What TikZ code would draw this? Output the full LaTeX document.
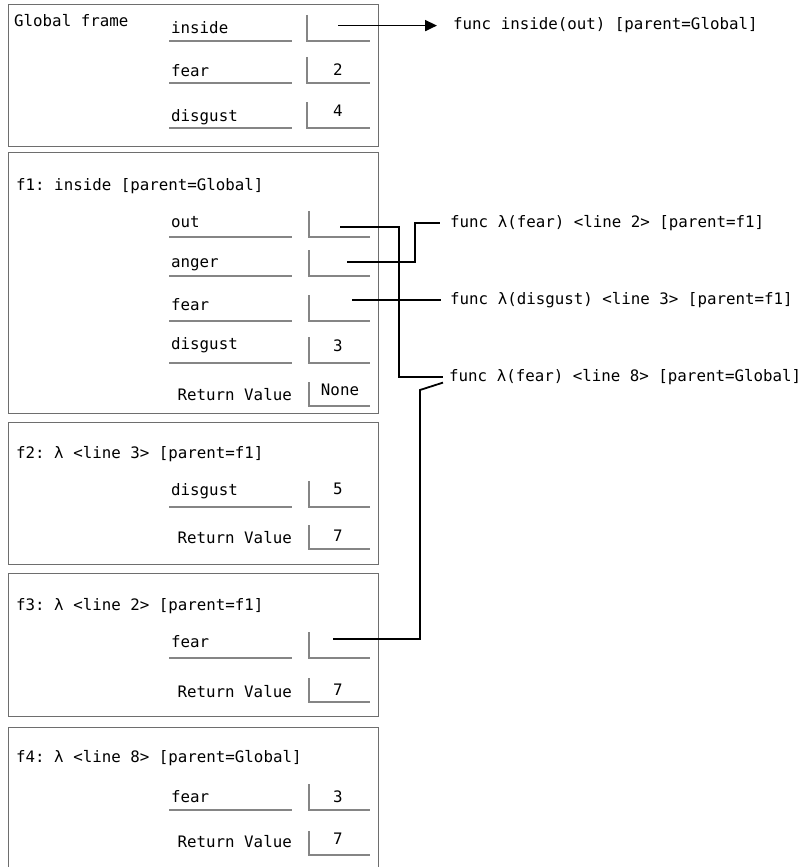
\documentclass[tikz,border=0pt]{standalone}
\usepackage{fontspec}
\setmonofont{DejaVu Sans Mono}
\usetikzlibrary{arrows.meta}
\definecolor{framegray}{HTML}{6E6E6E}
\definecolor{slotgray}{HTML}{858585}

% a variable row: node name, text, baseline, underline y, slot x
\newcommand\namerow[5]{%
  \node[txt] (#1) at (171,#3) {#2};
  \draw[slotline] (169,#4) -- (292,#4);
  \draw[slotline] (#5,#4-26) -- (#5,#4) -- (370,#4);
}
% the return-value row: node name, baseline, underline y
\newcommand\retrow[3]{%
  \node[rtxt] (#1) at (292,#2) {Return Value};
  \draw[slotline] (309,#3-24) -- (309,#3) -- (370,#3);
}

\begin{document}
\begin{tikzpicture}[x=1pt,y=-1pt,
  mono/.style={font=\ttfamily\fontsize{15.8}{18}\selectfont, text=black, inner sep=0pt},
  txt/.style={mono, anchor=base west},
  rtxt/.style={mono, anchor=base east},
  vtxt/.style={mono, anchor=base},
  frame/.style={draw=framegray, line width=1.1pt, fill=white,
    minimum width=369.5pt, anchor=north west, inner sep=0pt},
  slotline/.style={draw=slotgray, line width=1.1pt},
  ptr/.style={draw=black, line width=1.8pt}]

\useasboundingbox (0,0) rectangle (810,867);
\fill[white] (0,0) rectangle (810,867);

% frames
\node[frame, minimum height=142pt] (gframe) at (8,4) {};
\node[frame, minimum height=261pt] (f1frame) at (8,152) {};
\node[frame, minimum height=142pt] (f2frame) at (8,422) {};
\node[frame, minimum height=143pt] (f3frame) at (8,573) {};
\node[frame, minimum height=170pt] (f4frame) at (8,727) {};

% global frame
\node[txt] (glabel) at (14,27) {Global frame};
\namerow{g-inside}{inside}{34}{41}{307}
\namerow{g-fear}{fear}{76}{83}{307}
\node[vtxt] (g-fear-v) at (338,75) {2};
\namerow{g-disgust}{disgust}{121}{128}{307}
\node[vtxt] (g-disgust-v) at (338,116) {4};

% f1
\node[txt] (f1label) at (16,190) {f1: inside [parent=Global]};
\namerow{f1-out}{out}{227}{237}{309}
\namerow{f1-anger}{anger}{267}{276}{309}
\namerow{f1-fear}{fear}{310}{321}{309}
\namerow{f1-disgust}{disgust}{349}{363}{309}
\node[vtxt] (f1-disgust-v) at (338,351) {3};
\retrow{f1-ret}{400}{406}
\node[vtxt] (f1-ret-v) at (340,395) {None};

% f2
\node[txt] (f2label) at (16,458) {f2: λ <line 3> [parent=f1]};
\namerow{f2-disgust}{disgust}{495}{507}{309}
\node[vtxt] (f2-disgust-v) at (338,494) {5};
\retrow{f2-ret}{543}{549}
\node[vtxt] (f2-ret-v) at (338,541) {7};

% f3
\node[txt] (f3label) at (16,610) {f3: λ <line 2> [parent=f1]};
\namerow{f3-fear}{fear}{647}{658}{309}
\retrow{f3-ret}{697}{702}
\node[vtxt] (f3-ret-v) at (338,695) {7};

% f4
\node[txt] (f4label) at (16,762) {f4: λ <line 8> [parent=Global]};
\namerow{f4-fear}{fear}{802}{810}{309}
\node[vtxt] (f4-fear-v) at (338,802) {3};
\retrow{f4-ret}{847}{855}
\node[vtxt] (f4-ret-v) at (338,844) {7};

% function objects
\node[txt] (fn-inside) at (453,30) {func inside(out) [parent=Global]};
\node[txt] (fn-l2) at (450,227) {func λ(fear) <line 2> [parent=f1]};
\node[txt] (fn-l3) at (450,304) {func λ(disgust) <line 3> [parent=f1]};
\node[txt] (fn-l8) at (449,381) {func λ(fear) <line 8> [parent=Global]};

% pointer origins inside the slots
\coordinate (p-g-inside) at (338,0 |- fn-inside.west);
\coordinate (p-f1-out) at (340,227);
\coordinate (p-f1-anger) at (347,262);
\coordinate (p-f1-fear) at (352,0 |- fn-l3.west);
\coordinate (p-f3-fear) at (333,639);

% pointers
\draw[ptr, -{Triangle[length=12pt,width=11pt]}] (p-g-inside) -- ([xshift=-16pt]fn-inside.west);
\draw[ptr] (p-f1-out) -| ([xshift=-50pt]fn-l8.west) -- ([xshift=-6pt]fn-l8.west);
\draw[ptr] (p-f1-anger) -| ([xshift=-35pt]fn-l2.west) -- ([xshift=-10pt]fn-l2.west);
\draw[ptr] (p-f1-fear) -- ([xshift=-9pt]fn-l3.west);
\draw[ptr] (p-f3-fear) -| (420,390) -- ([xshift=-6pt,yshift=-6pt]fn-l8.west);
\end{tikzpicture}
\end{document}
